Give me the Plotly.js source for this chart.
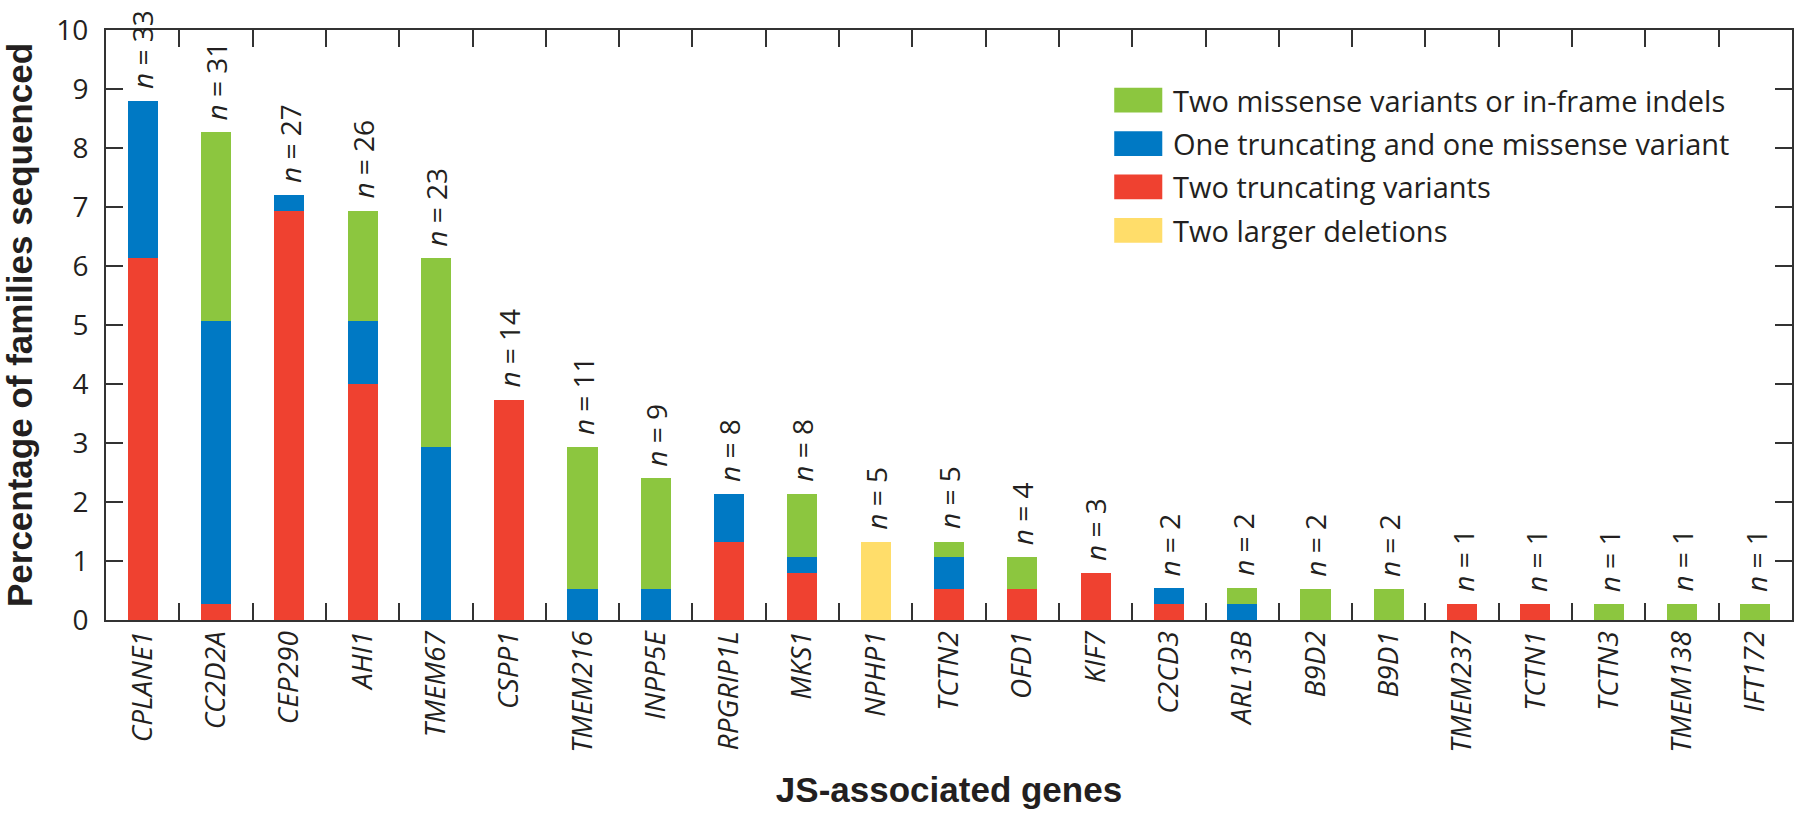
<!DOCTYPE html>
<html>
<head>
<meta charset="utf-8">
<script src="https://cdn.plot.ly/plotly-3.0.1.min.js"></script>
<style>
  html, body { margin: 0; padding: 0; background: #ffffff; }
  #chart { width: 1800px; height: 835px; }
</style>
</head>
<body>
<div id="chart"></div>
<script>
// ---- Data ----
const genes = ['CPLANE1','CC2D2A','CEP290','AHI1','TMEM67','CSPP1','TMEM216','INPP5E','RPGRIP1L','MKS1','NPHP1','TCTN2','OFD1','KIF7','C2CD3','ARL13B','B9D2','B9D1','TMEM237','TCTN1','TCTN3','TMEM138','IFT172'];
const nFamilies = [33,31,27,26,23,14,11,9,8,8,5,5,4,3,2,2,2,2,1,1,1,1,1];

// percentage of families sequenced, per variant class
const twoTruncating   = [6.13,0.27,6.93,4.00,0.00,3.73,0.00,0.00,1.33,0.80,0.00,0.53,0.53,0.80,0.27,0.00,0.00,0.00,0.27,0.27,0.00,0.00,0.00];
const truncMissense   = [2.67,4.80,0.27,1.07,2.93,0.00,0.53,0.53,0.80,0.27,0.00,0.53,0.00,0.00,0.27,0.27,0.00,0.00,0.00,0.00,0.00,0.00,0.00];
const twoMissense     = [0.00,3.20,0.00,1.87,3.20,0.00,2.40,1.87,0.00,1.07,0.00,0.27,0.53,0.00,0.00,0.27,0.53,0.53,0.00,0.00,0.27,0.27,0.27];
const largerDeletions = [0.00,0.00,0.00,0.00,0.00,0.00,0.00,0.00,0.00,0.00,1.33,0.00,0.00,0.00,0.00,0.00,0.00,0.00,0.00,0.00,0.00,0.00,0.00];

const seriesNames  = ['Two missense variants or in-frame indels','One truncating and one missense variant','Two truncating variants','Two larger deletions'];
const seriesColors = ['#8CC63F','#0079C4','#EF4130','#FFDD6A'];

const xTitle = 'JS-associated genes';
const yTitle = 'Percentage of families sequenced';
const yTicks = [0,1,2,3,4,5,6,7,8,9,10];

// ---- Styling ----
const INK = '#231F20';
const AXIS = '#333333';
const BODY_FONT = '"Open Sans", Lato, sans-serif';
const TITLE_FONT = '"Liberation Sans", Arial, sans-serif';

function barTrace(values, idx) {
  return {
    type: 'bar',
    x: genes,
    y: values,
    name: seriesNames[idx],
    marker: { color: seriesColors[idx], line: { width: 0 } },
    showlegend: false,
    hoverinfo: 'x+y+name'
  };
}

const traces = [
  barTrace(twoTruncating, 2),
  barTrace(truncMissense, 1),
  barTrace(twoMissense, 0),
  barTrace(largerDeletions, 3)
];

const totals = genes.map((g, i) => twoTruncating[i] + truncMissense[i] + twoMissense[i] + largerDeletions[i]);

const annotations = genes.map((g, i) => ({
  x: g, y: totals[i], xref: 'x', yref: 'y',
  text: '<i>n</i> = ' + nFamilies[i],
  textangle: -90, showarrow: false,
  xanchor: 'center', yanchor: 'bottom', yshift: 10,
  font: { family: BODY_FONT, size: 28, color: INK }
}));

// custom legend (large swatches like the reference)
const legendOrder = [0, 1, 2, 3];
const legX0 = 0.598, legSwW = 0.0285, legTop = 0.881, legStep = 0.0735, legSwH = 0.042;
const shapes = [];
legendOrder.forEach((si, r) => {
  const yc = legTop - r * legStep;
  shapes.push({
    type: 'rect', xref: 'paper', yref: 'paper',
    x0: legX0, x1: legX0 + legSwW, y0: yc - legSwH / 2, y1: yc + legSwH / 2,
    fillcolor: seriesColors[si], line: { width: 0 }
  });
  annotations.push({
    xref: 'paper', yref: 'paper', x: legX0 + legSwW + 0.005, y: yc,
    xanchor: 'left', yanchor: 'middle', showarrow: false,
    text: seriesNames[si],
    font: { family: BODY_FONT, size: 29, color: INK }
  });
});

const layout = {
  width: 1800, height: 835,
  margin: { l: 106, r: 8, t: 30, b: 215, pad: 0 },
  paper_bgcolor: '#ffffff', plot_bgcolor: '#ffffff',
  font: { family: BODY_FONT, color: INK, size: 28 },
  barmode: 'stack', bargap: 0.59,
  xaxis: {
    type: 'category', categoryorder: 'array', categoryarray: genes,
    tickson: 'boundaries', ticks: 'inside', ticklen: 17, tickwidth: 2, tickcolor: AXIS,
    showline: true, linewidth: 2, linecolor: AXIS, mirror: 'ticks',
    showgrid: false, zeroline: false,
    tickangle: -90, ticklabelstandoff: -2,
    tickfont: { family: BODY_FONT, size: 28, color: INK, style: 'italic' },
    title: { text: xTitle, standoff: 26, font: { family: TITLE_FONT, size: 35, color: INK, weight: 'bold' } },
    automargin: false
  },
  yaxis: {
    range: [0, 10], tickvals: yTicks, ticktext: yTicks.map(String),
    ticks: 'inside', ticklen: 17, tickwidth: 2, tickcolor: AXIS,
    showline: true, linewidth: 2, linecolor: AXIS, mirror: 'ticks',
    showgrid: false, zeroline: false, ticklabelstandoff: 10,
    tickfont: { family: BODY_FONT, size: 28, color: INK },
    title: { text: yTitle, standoff: 20, font: { family: TITLE_FONT, size: 35, color: INK, weight: 'bold' } },
    automargin: false
  },
  shapes: shapes,
  annotations: annotations
};

Plotly.newPlot('chart', traces, layout, { displayModeBar: false, responsive: false });
</script>
</body>
</html>
